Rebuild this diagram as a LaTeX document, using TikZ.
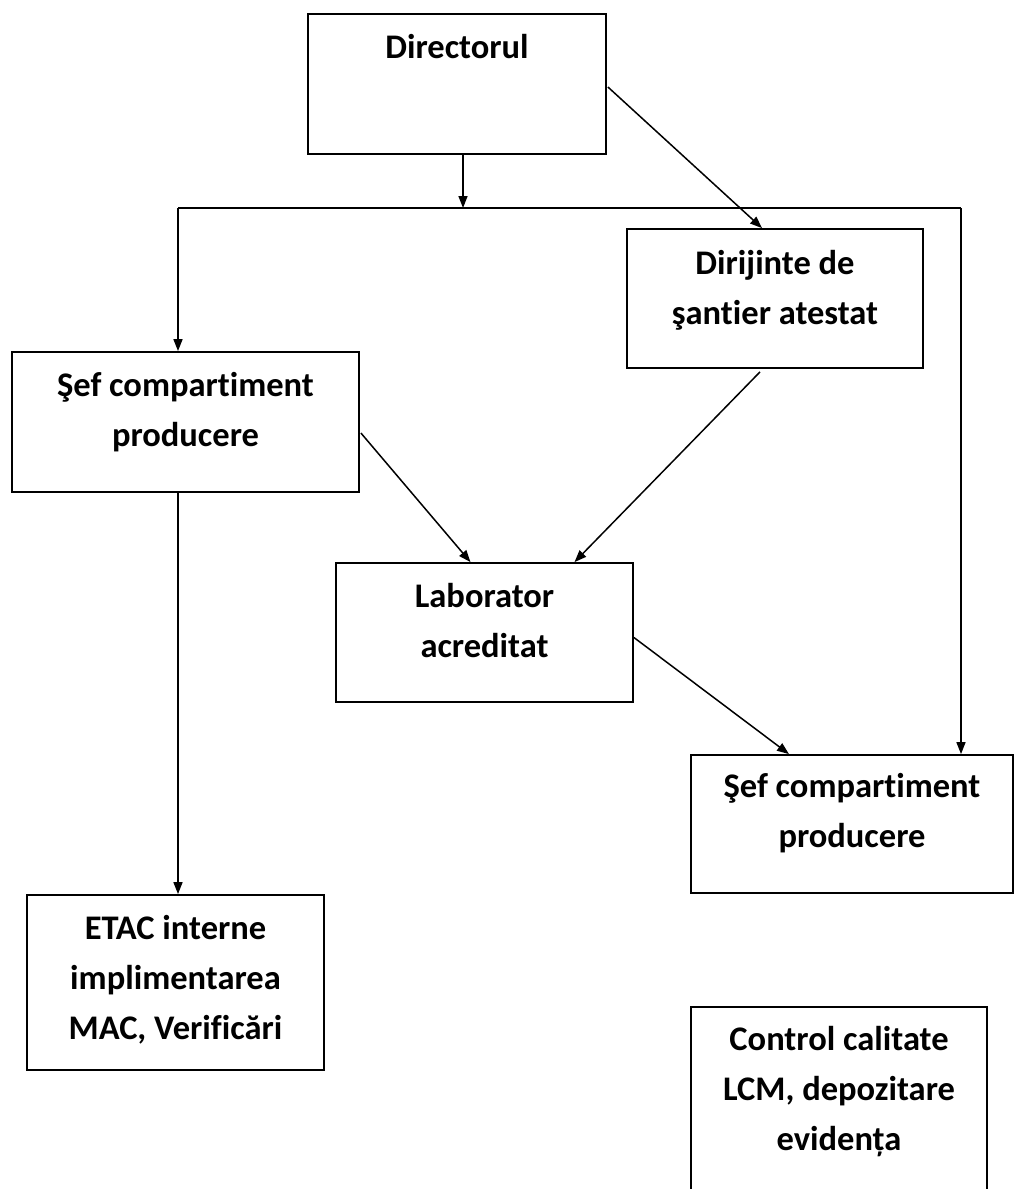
\documentclass[tikz,border=0pt]{standalone}
\usepackage{fontspec}
\setmainfont[RawFeature={-liga;-clig;-dlig}]{Carlito}
\usetikzlibrary{arrows.meta,calc}
\newcommand{\nolig}{\kern0pt }
\begin{document}
\begin{tikzpicture}[x=1pt,y=-1pt,
  box/.style={draw, line width=1.8pt, rectangle, inner sep=0pt},
  lbl/.style={font=\bfseries\fontsize{34.5}{50}\selectfont, align=center, inner sep=0pt},
  arr/.style={line width=1.5pt, -{Triangle[length=12pt,width=9pt]}},
  ln/.style={line width=1.5pt}]
\clip (0,0) rectangle (1015,1189);
\useasboundingbox (0,0) rectangle (1015,1189);
\fill[white] (0,0) rectangle (1015,1189);
% boxes
\node[box, minimum width=298pt, minimum height=140pt] (dir)  at (457,84) {};
\node[box, minimum width=296pt, minimum height=139pt] (diri) at (775,298.5) {};
\node[box, minimum width=347pt, minimum height=140pt] (sef1) at (185.5,422) {};
\node[box, minimum width=297pt, minimum height=139pt] (lab)  at (484.5,632.5) {};
\node[box, minimum width=322pt, minimum height=138pt] (sef2) at (852,824) {};
\node[box, minimum width=297pt, minimum height=175pt] (etac) at (175.5,982.5) {};
\node[box, minimum width=296pt, minimum height=200pt] (ctrl) at (839,1107) {};
% texts
\node[lbl] (dirT)  at (457,47) {Directorul};
\node[lbl] (diriT) at (775,290) {Dirijinte de\\şant\nolig ier atestat};
\node[lbl] (sef1T) at (185.5,412) {Şef compart\nolig iment\\producere};
\node[lbl] (labT)  at (484.5,621) {Laborator\\acreditat};
\node[lbl] (sef2T) at (852,813) {Şef compart\nolig iment\\producere};
\node[lbl] (etacT) at (175.5,980) {ETAC interne\\implimentarea\\MAC, Verificări};
\node[lbl] (ctrlT) at (839,1092) {Control calitate\\LCM, depozitare\\evidența};
% bus
\coordinate (busL) at (178,208);
\coordinate (busR) at (961,208);
\coordinate (dirOut) at (463,154);
\draw[arr] (dirOut) -- (dirOut |- busL);
\draw[ln] (busL) -- (busR);
\draw[arr] (busL) -- (busL |- sef1.north);
\draw[arr] (busR) -- (busR |- sef2.north);
% connectors
\draw[arr] ($(dir.east)+(1,3)$) -- ($(diri.north)+(-13,0)$);
\draw[arr] ($(sef1.east)+(1,11)$) -- ($(lab.north)+(-14,0)$);
\draw[arr] ($(diri.south)+(-15,3)$) -- ($(lab.north)+(90,0)$);
\draw[arr] ($(lab.east)+(0,5)$) -- ($(sef2.north)+(-63,0)$);
\draw[arr] (sef1.south -| busL) -- (etac.north -| busL);
\end{tikzpicture}
\end{document}
